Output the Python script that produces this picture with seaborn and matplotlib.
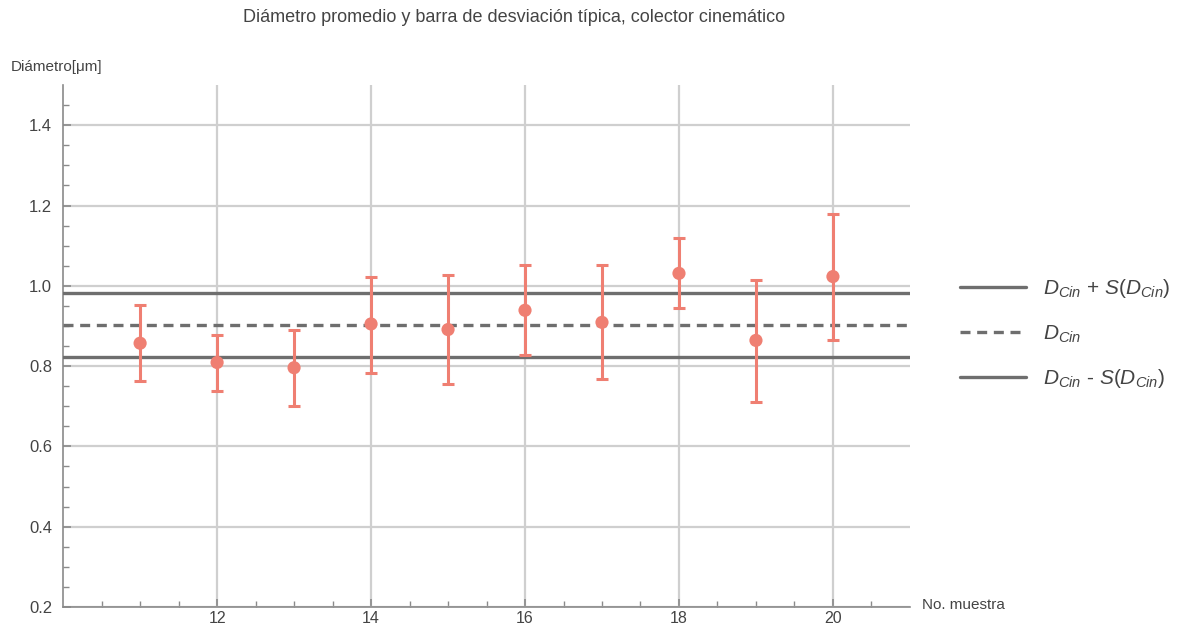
import numpy as np
import pandas as pd
import seaborn as sns
import matplotlib.pyplot as plt

# sample number, mean diameter and the ends of the std bars (um)
muestra = [11, 12, 13, 14, 15, 16, 17, 18, 19, 20]
diametro = [0.857, 0.809, 0.796, 0.905, 0.891, 0.939, 0.909, 1.031, 0.864, 1.023]
barra_sup = [0.953, 0.878, 0.891, 1.022, 1.028, 1.051, 1.052, 1.119, 1.015, 1.178]
barra_inf = [0.763, 0.738, 0.700, 0.784, 0.755, 0.828, 0.769, 0.945, 0.711, 0.866]

d_cin = 0.903
s_cin = 0.080

df = pd.DataFrame({'muestra': muestra, 'diametro': diametro})
err = [np.array(diametro) - np.array(barra_inf), np.array(barra_sup) - np.array(diametro)]

sns.set_style('white')
plt.rcParams['font.family'] = ['Liberation Sans', 'DejaVu Sans']
plt.rcParams['mathtext.fontset'] = 'custom'
plt.rcParams['mathtext.it'] = 'Liberation Sans:italic'
plt.rcParams['mathtext.rm'] = 'Liberation Sans'

fig = plt.figure(figsize=(11.91, 6.3), dpi=100)
ax = fig.add_axes([0.053, 0.0365, 0.711, 0.8285])

col = '#EF7F72'
gris = '#6e6e6e'

ax.errorbar(muestra, diametro, yerr=err, fmt='none', ecolor=col, elinewidth=2.2,
            capsize=4, capthick=2.2, zorder=4)
sns.scatterplot(data=df, x='muestra', y='diametro', color=col, s=90,
                edgecolor='none', zorder=5, ax=ax)

l1 = ax.axhline(d_cin + s_cin, color=gris, lw=2.4, zorder=3, label=r'$D_{Cin}$ + $S(D_{Cin})$')
l2 = ax.axhline(d_cin, color=gris, lw=2.4, ls=(0, (3, 2)), zorder=3, label=r'$D_{Cin}$')
l3 = ax.axhline(d_cin - s_cin, color=gris, lw=2.4, zorder=3, label=r'$D_{Cin}$ - $S(D_{Cin})$')

ax.set_xlim(10, 21)
ax.set_ylim(0.2, 1.5)
ax.set_xticks([12, 14, 16, 18, 20])
ax.set_xticks(np.arange(10.5, 21, 0.5), minor=True)
ax.set_yticks([0.2, 0.4, 0.6, 0.8, 1.0, 1.2, 1.4])
ax.set_yticks(np.arange(0.2, 1.5, 0.05), minor=True)
ax.set_yticklabels(['0.2', '0.4', '0.6', '0.8', '1.0', '1.2', '1.4'])

ax.grid(True, which='major', color='#cfcfcf', lw=1.6, zorder=0)
ax.set_axisbelow(True)
for s in ['top', 'right']:
    ax.spines[s].set_visible(False)
for s in ['left', 'bottom']:
    ax.spines[s].set_color('#8a8a8a')
    ax.spines[s].set_linewidth(1.2)
ax.tick_params(which='both', direction='in', color='#8a8a8a', labelcolor='#444444',
               labelsize=12, left=True, bottom=True)
ax.tick_params(which='major', length=6, width=1.2)
ax.tick_params(axis='y', which='major', pad=8)
ax.tick_params(axis='x', which='major', pad=3, labelsize=11.5)
ax.tick_params(which='minor', length=4, width=1)
ax.set_xlabel('')
ax.set_ylabel('')

fig.text(0.009, 0.893, 'Diámetro[μm]', fontsize=11, color='#444444', va='center')
fig.text(0.774, 0.04, 'No. muestra', fontsize=11, color='#444444', va='center')
fig.text(0.432, 0.972, 'Diámetro promedio y barra de desviación típica, colector cinemático',
         fontsize=13, color='#444444', ha='center', va='center')

fig.legend(handles=[l1, l2, l3], loc='center left', bbox_to_anchor=(0.79, 0.47),
           frameon=False, fontsize=15, handlelength=3.2, labelspacing=1.1,
           labelcolor='#444444')

fig.savefig('out.png', dpi=100)
